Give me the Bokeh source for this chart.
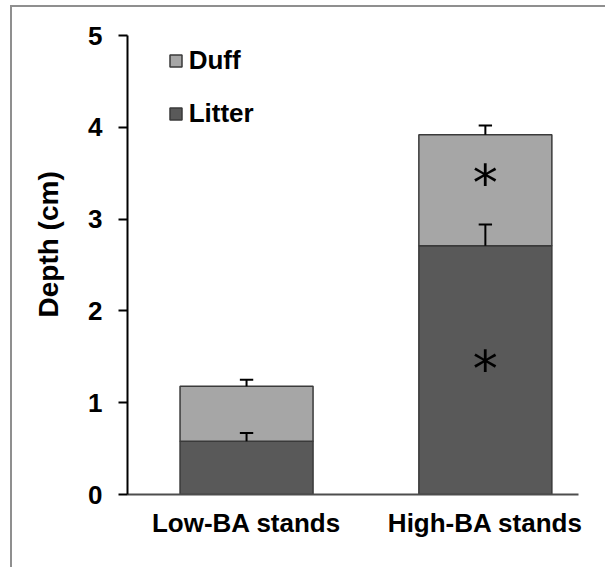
from bokeh.plotting import figure
from bokeh.models import (FixedTicker, Legend, LegendItem, Title, Range1d)
from bokeh.core.properties import value
from bokeh.embed import file_html
from bokeh.resources import INLINE

# ---- data ----
categories = ["Low-BA stands", "High-BA stands"]
litter = [0.58, 2.71]
duff = [0.60, 1.21]
litter_err = [0.09, 0.23]
total_err = [0.07, 0.10]
y_ticks = [0, 1, 2, 3, 4, 5]
sig_litter = [False, True]
sig_duff = [False, True]

xs = list(range(len(categories)))
totals = [a + b for a, b in zip(litter, duff)]
litter_up = [a + e for a, e in zip(litter, litter_err)]
total_up = [t + e for t, e in zip(totals, total_err)]

FONT = "Liberation Sans"
DUFF_C = "#a6a6a6"
LITTER_C = "#595959"
BW = 0.557
CAP = 0.028

p = figure(width=595, height=562, output_backend="svg", toolbar_location=None,
           x_range=Range1d(-0.4985, 1.39), y_range=Range1d(0, 5),
           min_border_left=115, min_border_right=29, min_border_top=28, min_border_bottom=75)
p.margin = (5, 0, 0, 10)
p.styles = {"border-top": "2px solid #8f8f8f", "border-left": "2px solid #8f8f8f"}
p.outline_line_color = None
p.grid.visible = False
p.background_fill_color = "white"
p.border_fill_color = "white"

litter_r = p.vbar(x=xs, bottom=0, top=litter, width=BW, fill_color=LITTER_C,
                  line_color="#3a3a3a", line_width=1.5)
duff_r = p.vbar(x=xs, bottom=litter, top=totals, width=BW, fill_color=DUFF_C,
                line_color="#3a3a3a", line_width=1.5)

# error bars (upper only)
p.segment(x0=xs, y0=litter, x1=xs, y1=litter_up, line_color="black", line_width=2)
p.segment(x0=[x - CAP for x in xs], y0=litter_up, x1=[x + CAP for x in xs], y1=litter_up,
          line_color="black", line_width=2)
p.segment(x0=xs, y0=totals, x1=xs, y1=total_up, line_color="black", line_width=2)
p.segment(x0=[x - CAP for x in xs], y0=total_up, x1=[x + CAP for x in xs], y1=total_up,
          line_color="black", line_width=2)

# significance asterisks
ax, ay = [], []
for i in xs:
    if sig_litter[i]:
        ax.append(xs[i]); ay.append(litter[i] * 0.527)
    if sig_duff[i]:
        ax.append(xs[i]); ay.append(litter[i] + duff[i] * 0.62)
p.text(x=ax, y=ay, text=["*"] * len(ax), text_font=value("DejaVu Sans"), text_font_size="50px",
       text_align="center", text_baseline="middle", y_offset=6, text_color="black")

# axes
xa = p.xaxis[0]
xa.ticker = FixedTicker(ticks=xs)
xa.major_label_overrides = {x: c for x, c in zip(xs, categories)}
xa.major_tick_line_color = None
xa.minor_tick_line_color = None
xa.axis_line_color = "#4d4d4d"
xa.axis_line_width = 2
xa.major_label_text_font = FONT
xa.major_label_text_font_style = "bold"
xa.major_label_text_font_size = "26px"
xa.major_label_text_color = "black"
xa.major_label_standoff = 7

ya = p.yaxis[0]
ya.ticker = FixedTicker(ticks=y_ticks)
ya.minor_tick_line_color = None
ya.axis_line_color = "black"
ya.axis_line_width = 2
ya.major_tick_line_color = "black"
ya.major_tick_line_width = 2
ya.major_tick_out = 9
ya.major_tick_in = 0
ya.major_label_text_font = FONT
ya.major_label_text_font_style = "bold"
ya.major_label_text_font_size = "26px"
ya.major_label_text_color = "black"
ya.major_label_standoff = 16

ytitle = Title(text="Depth (cm)", align="left", offset=177, standoff=40, vertical_align="top",
               text_font=FONT, text_font_style="bold", text_font_size="28px",
               text_color="black")
p.add_layout(ytitle, "left")

legend = Legend(items=[LegendItem(label="Duff", renderers=[duff_r]),
                       LegendItem(label="Litter", renderers=[litter_r])],
                location=(40.7, 364.8), orientation="vertical",
                glyph_width=15, glyph_height=15, label_height=30, spacing=22,
                padding=0, margin=0, label_standoff=6, border_line_color=None,
                background_fill_alpha=0,
                label_text_font=FONT, label_text_font_style="bold",
                label_text_font_size="26px", label_text_color="black")
p.add_layout(legend)

open("out.html", "w").write(file_html(p, INLINE))
